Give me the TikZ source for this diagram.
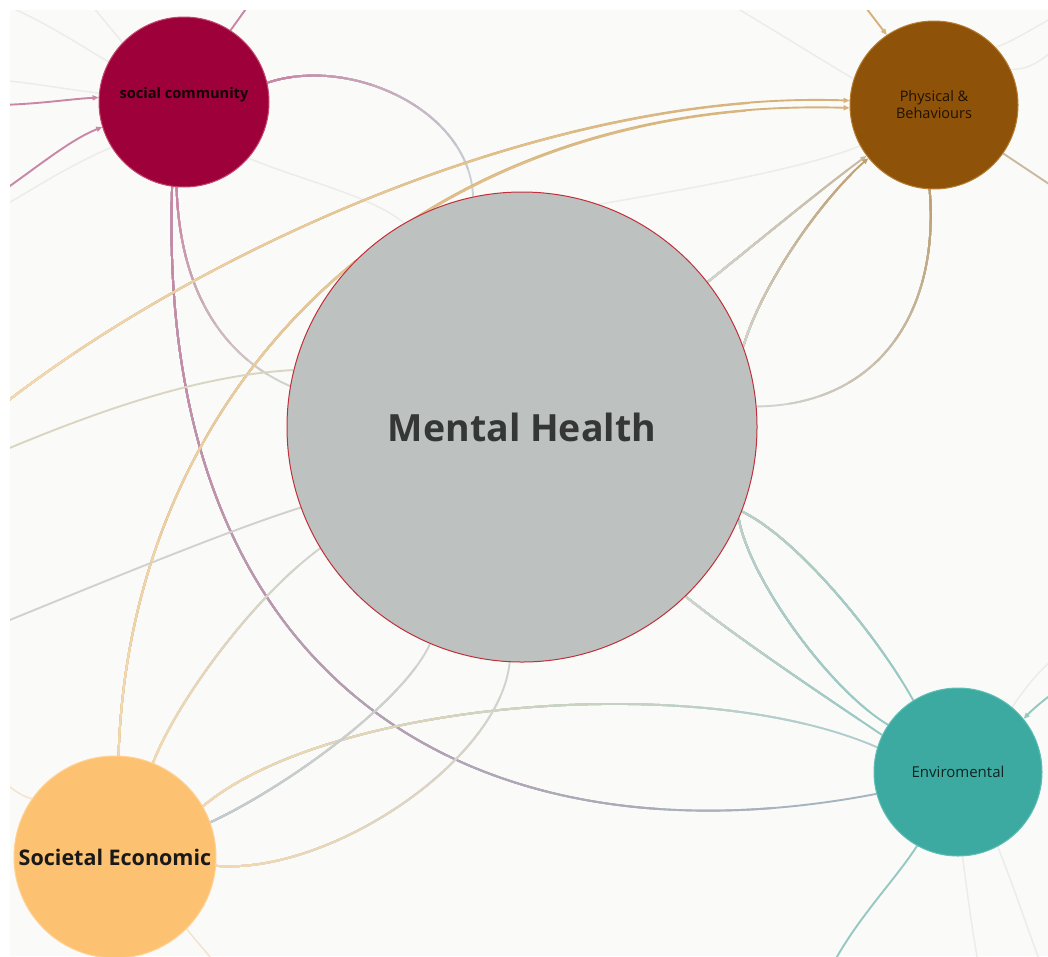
\documentclass[tikz,border=0pt]{standalone}
\usepackage{fontspec}
\setmainfont{Open Sans}
\usetikzlibrary{arrows.meta}

% palette
\definecolor{bgcol}{HTML}{FAFAF8}
\definecolor{mhfill}{HTML}{BDC2C1}
\definecolor{mhline}{HTML}{C0303A}
\definecolor{scfill}{RGB}{158,0,58}
\definecolor{scline}{RGB}{196,70,110}
\definecolor{pbfill}{RGB}{142,82,9}
\definecolor{pbline}{RGB}{180,125,50}
\definecolor{envfill}{RGB}{61,170,161}
\definecolor{envline}{RGB}{95,190,180}
\definecolor{sefill}{RGB}{253,193,114}
\definecolor{seline}{RGB}{255,210,145}
% connector colours
\definecolor{pinkE}{RGB}{201,135,165}
\definecolor{blueGrayLight}{RGB}{200,210,215}
\definecolor{grayE}{RGB}{208,210,205}
\definecolor{blueGray}{RGB}{165,180,190}
\definecolor{beigeE}{RGB}{242,216,176}
\definecolor{tanE}{RGB}{214,178,122}
\definecolor{tanG}{RGB}{200,185,160}
\definecolor{brownE}{RGB}{190,160,115}
\definecolor{grayTeal}{RGB}{190,205,200}
\definecolor{tealE}{RGB}{150,200,194}
\definecolor{tealG}{RGB}{175,205,205}
\definecolor{beigeGray}{RGB}{216,214,192}
\definecolor{grayBlue}{RGB}{195,202,206}
\definecolor{faintE}{RGB}{236,236,233}
\definecolor{faintBeige}{RGB}{243,228,205}

\pgfdeclarelayer{bglayer}
\pgfdeclarelayer{linklayer}
\pgfdeclarelayer{toplayer}
\pgfsetlayers{bglayer,linklayer,main,toplayer}

% connector whose colour fades from #2 (start) to #3 (end);
% #4 is the approximate path length in pt, #5 the path
\newcommand{\gradedge}[5][]{%
  \foreach \k in {0,...,9}{%
    \pgfmathtruncatemacro\gmix{100*\k/9}%
    \pgfmathsetmacro\glen{#4*(10-\k)/10}%
    \ifnum\k=0
      \draw[link,#3,#1] #5;
    \else
      \draw[link,color=#2!\gmix!#3,dash pattern=on \glen pt off 8000pt] #5;
    \fi
  }}

\begin{document}
\begin{tikzpicture}[x=1pt,y=-1pt,
  link/.style={line width=1.9pt},
  faint/.style={line width=1.5pt,faintE},
  arr/.style={-{Triangle[length=6pt,width=5pt]}},
  bubble/.style={circle,inner sep=0pt,line width=1pt},
  font=\fontsize{13}{16}\selectfont]
\useasboundingbox (0,0) rectangle (1048,956);

\begin{pgfonlayer}{bglayer}
  \fill[white] (0,0) rectangle (1048,956);
  \fill[bgcol] (10,10) rectangle (1048,956);
\end{pgfonlayer}

% topic bubbles
\node[bubble,minimum size=470pt,fill=mhfill,draw=mhline,
      text=black!72!mhfill,font=\fontsize{37.5}{42}\selectfont\bfseries]
  (MH) at (522,427) {Mental Health};
\node[bubble,minimum size=170pt,fill=scfill,draw=scline] (SC) at (184,102) {};
\node[text=black!88!scfill,font=\fontsize{14.6}{17}\selectfont\bfseries]
  (sctext) at ([yshift=7pt]SC.center) {social community};
\node[bubble,minimum size=168pt,fill=pbfill,draw=pbline,align=center,
      text=black!78!pbfill,font=\fontsize{14.5}{17}\selectfont]
  (PB) at (934,105) {Physical \&\\Behaviours};
\node[bubble,minimum size=168pt,fill=envfill,draw=envline,
      text=black!78!envfill,font=\fontsize{15}{18}\selectfont]
  (Env) at (958,772) {Enviromental};
\node[bubble,minimum size=202pt,fill=sefill,draw=seline,
      text=black!90,font=\fontsize{21.5}{24}\selectfont\bfseries]
  (SE) at (115,857) {Societal Economic};

% free ends of connectors leaving the frame
\coordinate (l1) at (0,105);
\coordinate (l2) at (0,193);
\coordinate (l3) at (0,452);
\coordinate (l4) at (0,624);
\coordinate (lA) at (0,407);
\coordinate (t1) at (248,6);
\coordinate (t2) at (863,4);
\coordinate (t3) at (730,4);
\coordinate (r1) at (1052,186);
\coordinate (r2) at (1052,694);
\coordinate (b1) at (834,962);
\coordinate (f1) at (8,6);
\coordinate (f2) at (0,80);
\coordinate (f3) at (0,208);
\coordinate (f4) at (90,4);
\coordinate (f5) at (1052,18);
\coordinate (f6) at (1052,52);
\coordinate (f7) at (1052,660);
\coordinate (f8) at (978,962);
\coordinate (f9) at (1040,962);
\coordinate (f10) at (0,778);
\coordinate (f11) at (214,962);

\begin{pgfonlayer}{linklayer}
  % faint background links
  \draw[faint] (f1) .. controls (50,25) and (80,45) .. (SC.152);
  \draw[faint] (f2) .. controls (40,84) and (70,90) .. (SC.174);
  \draw[faint] (f3) .. controls (40,185) and (70,165) .. (SC.212);
  \draw[faint] (f4) .. controls (100,15) and (108,25) .. (SC.136);
  \draw[faint] (SC.319) .. controls (300,180) and (370,195) .. (MH.120);
  \draw[faint] (MH.71) .. controls (680,190) and (800,170) .. (PB.209);
  \draw[faint] (t3) .. controls (790,40) and (830,65) .. (PB.162);
  \draw[faint] (f5) .. controls (1030,30) and (1015,40) .. (PB.43);
  \draw[faint] (f6) .. controls (1040,60) and (1030,70) .. (PB.25);
  \draw[faint] (f7) .. controls (1035,675) and (1020,695) .. (Env.50);
  \draw[faint] (Env.273) .. controls (967,890) and (972,930) .. (f8);
  \draw[faint] (Env.298) .. controls (1015,890) and (1028,930) .. (f9);
  \draw[line width=1.5pt,faintBeige] (f10) .. controls (12,790) and (22,796) .. (SE.145);
  \draw[line width=1.5pt,faintBeige] (SE.315) .. controls (195,940) and (205,950) .. (f11);

  % social community
  \gradedge{pinkE}{blueGrayLight}{265}{(SC.13) .. controls (350,55) and (470,110) .. (MH.102)}
  \gradedge{pinkE}{grayE}{241}{(SC.265) .. controls (180,300) and (230,360) .. (MH.170)}
  \gradedge{pinkE}{blueGray}{1115}{(SC.262) .. controls (155,690) and (480,870) .. (Env.195)}
  \draw[link,pinkE,arr] (l1) .. controls (40,104) and (70,99) .. (SC.177);
  \draw[link,pinkE,arr] (l2) .. controls (40,165) and (70,140) .. (SC.197);
  \draw[link,pinkE] (t1) -- (SC.57);

  % physical & behaviours
  \gradedge[arr]{beigeE}{tanE}{910}{(lA) .. controls (200,250) and (550,90) .. (PB.177)}
  \gradedge[arr]{beigeE}{tanE}{1100}{(SE.88) .. controls (130,380) and (420,95) .. (PB.182)}
  \gradedge[arr]{grayE}{tanG}{199}{(MH.38) .. controls (760,240) and (820,190) .. (PB.217)}
  \gradedge[arr]{grayE}{brownE}{228}{(MH.20) .. controls (760,290) and (815,205) .. (PB.219)}
  \gradedge{brownE}{grayE}{316}{(PB.267) .. controls (940,310) and (880,405) .. (MH.5)}
  \draw[link,tanE,arr] (t2) -- (PB.124);
  \draw[link,tanG] (PB.325) -- (r1);

  % environmental
  \gradedge{grayTeal}{tealE}{258}{(MH.339) .. controls (800,540) and (880,640) .. (Env.122)}
  \gradedge{grayTeal}{tealE}{262}{(MH.337) .. controls (750,580) and (830,690) .. (Env.146)}
  \gradedge{grayE}{tealE}{238}{(MH.314) .. controls (740,640) and (830,700) .. (Env.154)}
  \gradedge{beigeE}{tealG}{694}{(SE.30) .. controls (330,700) and (700,670) .. (Env.163)}
  \draw[link,tealE,arr] (r2) .. controls (1040,703) and (1032,710) .. (Env.39);
  \draw[link,tealE] (Env.241) .. controls (895,880) and (860,915) .. (b1);

  % societal economic
  \gradedge{beigeE}{grayE}{275}{(SE.68) .. controls (175,705) and (250,600) .. (MH.211)}
  \gradedge{grayBlue}{grayE}{288}{(SE.20) .. controls (290,785) and (405,700) .. (MH.247)}
  \gradedge{beigeE}{grayE}{384}{(SE.355) .. controls (330,875) and (500,760) .. (MH.267)}

  % links entering from the left
  \draw[link,beigeGray] (l3) .. controls (100,410) and (200,375) .. (MH.166);
  \draw[link,grayE] (l4) .. controls (120,575) and (230,530) .. (MH.200);
\end{pgfonlayer}

\begin{pgfonlayer}{toplayer}
  \fill[white] (0,0) rectangle (1048,10);
  \fill[white] (0,0) rectangle (10,956);
\end{pgfonlayer}
\end{tikzpicture}
\end{document}
